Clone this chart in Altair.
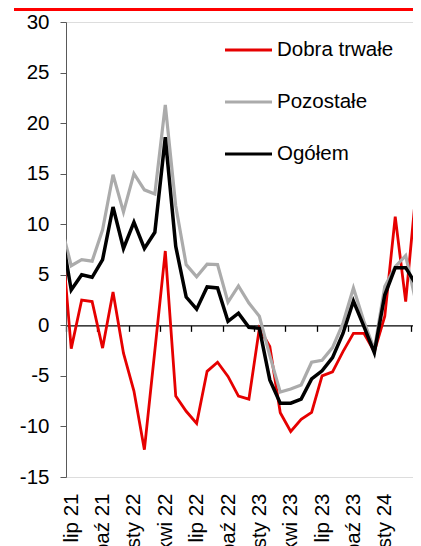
import altair as alt
import pandas as pd

# ---- data ----
months = ["cze 21", "lip 21", "sie 21", "wrz 21", "paź 21", "lis 21", "gru 21",
          "sty 22", "lut 22", "mar 22", "kwi 22", "maj 22", "cze 22", "lip 22",
          "sie 22", "wrz 22", "paź 22", "lis 22", "gru 22", "sty 23", "lut 23",
          "mar 23", "kwi 23", "maj 23", "cze 23", "lip 23", "sie 23", "wrz 23",
          "paź 23", "lis 23", "gru 23", "sty 24", "lut 24", "mar 24", "kwi 24"]

dobra_trwale = [10.0, -2.3, 2.5, 2.35, -2.25, 3.3, -2.75, -6.5, -12.3, -2.5,
                7.35, -7.0, -8.5, -9.7, -4.55, -3.65, -5.05, -7.0, -7.3, -0.3,
                -2.1, -8.65, -10.5, -9.3, -8.6, -5.0, -4.6, -2.6, -0.8, -0.8,
                -2.6, 0.9, 10.75, 2.35, 13.4]

pozostale = [10.0, 5.9, 6.5, 6.35, 9.45, 14.9, 11.2, 15.0, 13.4, 13.0,
             21.8, 11.8, 6.0, 4.8, 6.05, 6.0, 2.3, 3.9, 2.2, 0.9,
             -3.0, -6.6, -6.3, -5.9, -3.65, -3.45, -2.2, 0.2, 3.7, 0.4,
             -2.4, 3.85, 5.8, 6.9, 2.2]

ogolem = [9.6, 3.5, 5.0, 4.75, 6.5, 11.7, 7.6, 10.2, 7.6, 9.2,
          18.6, 7.8, 2.8, 1.6, 3.8, 3.7, 0.4, 1.2, -0.2, -0.3,
          -5.4, -7.7, -7.7, -7.3, -5.3, -4.5, -3.2, -0.8, 2.4, -0.1,
          -2.7, 3.0, 5.7, 5.7, 4.0]

series_names = ["Dobra trwałe", "Pozostałe", "Ogółem"]
series_colors = ["#E60000", "#ABABAB", "#000000"]
series_widths = [2.8, 3.2, 3.5]

label_months = [1, 4, 7, 10, 13, 16, 19, 22, 25, 28, 31, 34]
quarter_bounds = [0.5, 3.5, 6.5, 9.5, 12.5, 15.5, 18.5, 21.5, 24.5, 27.5, 30.5, 33.5]
y_ticks = [-15, -10, -5, 0, 5, 10, 15, 20, 25, 30]

rows = []
for name, vals in zip(series_names, [dobra_trwale, pozostale, ogolem]):
    for i, v in enumerate(vals):
        rows.append({"i": i, "month": months[i], "series": name, "value": v})
df = pd.DataFrame(rows)

FONT = "Liberation Sans"
FS = 20.5
W, H = 347, 455
X_END = 33.7

x_scale = alt.Scale(domain=[0.5, X_END], nice=False, zero=False)
y_scale = alt.Scale(domain=[-15, 30], nice=False, zero=False)

y_axis = alt.Axis(values=y_ticks, labelExpr="'' + datum.value", grid=False,
                  domainColor="#595959", tickColor="#595959", tickSize=6,
                  labelFontSize=FS, labelFont=FONT, labelColor="black",
                  labelPadding=11, title=None)

zero_axis = alt.Axis(orient="bottom", values=quarter_bounds, labels=False,
                     grid=False, domainColor="black", domainWidth=1.3,
                     tickColor="black", tickWidth=1.3, tickSize=6,
                     offset=-H * 15 / 45, title=None)

label_expr = "[" + ",".join("'" + m + "'" for m in months) + "][datum.value]"
label_axis = alt.Axis(orient="bottom", values=label_months, labelExpr=label_expr,
                      labelAngle=270, labelAlign="right", labelBaseline="middle",
                      domain=False, ticks=False, grid=False, labelPadding=16,
                      labelFontSize=FS, labelFont=FONT, labelColor="black",
                      labelFlush=False, labelOverlap=False, title=None)

color = alt.Color("series:N",
                  scale=alt.Scale(domain=series_names, range=series_colors),
                  sort=series_names,
                  legend=alt.Legend(orient="none", legendX=157.5, legendY=3,
                                    title=None, symbolType="stroke",
                                    symbolSize=2209, symbolStrokeWidth=3,
                                    labelFontSize=FS, labelFont=FONT,
                                    labelColor="black", labelOffset=3.5,
                                    rowPadding=16, padding=0))

base = alt.Chart(df)


def series_line(idx, axis):
    name = series_names[idx]
    return base.transform_filter(alt.datum.series == name).mark_line(
        strokeWidth=series_widths[idx], clip=True
    ).encode(
        x=alt.X("i:Q", scale=x_scale, axis=axis),
        y=alt.Y("value:Q", scale=y_scale, axis=y_axis),
        color=color,
    )


red = series_line(0, zero_axis)
grey = series_line(1, None)
black = series_line(2, label_axis)

top_bar = alt.Chart(pd.DataFrame({"k": [0]})).mark_rule(
    color="#FF0000", strokeWidth=3
).encode(x=alt.value(-52), x2=alt.value(W), y=alt.value(-12.5))

chart = alt.layer(red, grey, black, top_bar).resolve_axis(
    x="independent"
).properties(
    width=W, height=H,
    autosize=alt.AutoSizeParams(type="none"),
    padding={"left": 58, "top": 14, "right": 0, "bottom": 70},
).configure_view(stroke=None).configure(background="white")

chart.save("out.html", embed_options={"renderer": "svg", "actions": False})
